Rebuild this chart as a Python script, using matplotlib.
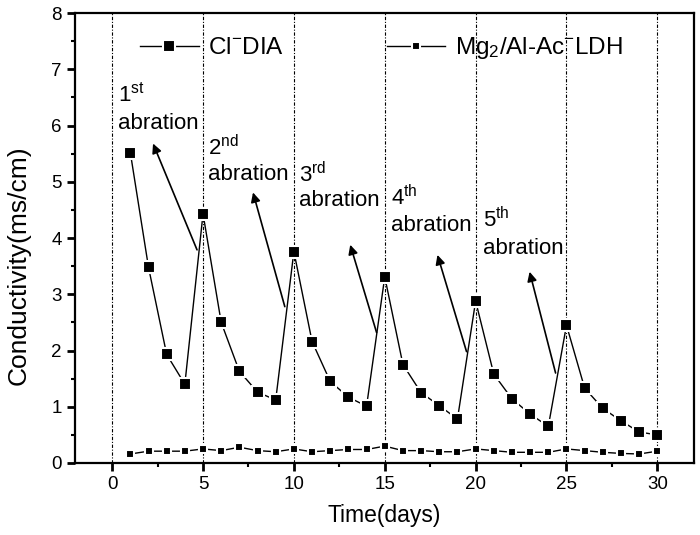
import matplotlib
matplotlib.use("Agg")
import matplotlib.pyplot as plt
from matplotlib.ticker import MultipleLocator

plt.rcParams['font.family'] = ['Liberation Sans', 'DejaVu Sans']
plt.rcParams['mathtext.fontset'] = 'custom'
plt.rcParams['mathtext.rm'] = 'Liberation Sans'
plt.rcParams['mathtext.default'] = 'regular'

# data
days = list(range(1, 31))
cl_dia = [5.52, 3.48, 1.93, 1.40, 4.43, 2.50, 1.63, 1.26, 1.12, 3.76,
          2.16, 1.45, 1.17, 1.01, 3.31, 1.75, 1.25, 1.02, 0.78, 2.88,
          1.58, 1.14, 0.87, 0.65, 2.45, 1.33, 0.97, 0.75, 0.55, 0.50]
ldh = [0.16, 0.21, 0.21, 0.21, 0.25, 0.22, 0.28, 0.22, 0.20, 0.25,
       0.20, 0.22, 0.24, 0.24, 0.30, 0.22, 0.22, 0.20, 0.20, 0.25,
       0.22, 0.19, 0.19, 0.19, 0.25, 0.22, 0.19, 0.17, 0.16, 0.21]
abrasion_days = [0, 5, 10, 15, 20, 25, 30]

# annotations: ordinal text, x, y of number, y of "abration"
ordinals = ['1$^{st}$', '2$^{nd}$', '3$^{rd}$', '4$^{th}$', '5$^{th}$']
label_x = [0.3, 5.25, 10.3, 15.35, 20.4]
num_y = [6.55, 5.6, 5.12, 4.72, 4.33]
word_y = [6.04, 5.13, 4.67, 4.23, 3.82]
arrow_tail = [(4.67, 3.79), (9.5, 2.78), (14.55, 2.32), (19.5, 1.98), (24.4, 1.6)]
arrow_head = [(2.25, 5.68), (7.75, 4.81), (13.1, 3.88), (17.9, 3.7), (22.97, 3.4)]

fig = plt.figure(figsize=(7, 5.35), dpi=100)
ax = fig.add_axes([0.107, 0.1346, 0.884, 0.841])

# dash-dot guide lines at each abration
for d in abrasion_days:
    ax.axvline(d, color='black', lw=0.8, ls=(0, (3, 1.5, 1, 1.5)), zorder=1)

ax.plot(days, cl_dia, color='black', lw=1, marker='s', markersize=8.5,
        markerfacecolor='black', markeredgecolor='white', markeredgewidth=1.5,
        label='Cl$^{-}$DIA', zorder=3)
ax.plot(days, ldh, color='black', lw=1, marker='s', markersize=5.5,
        markerfacecolor='black', markeredgecolor='white', markeredgewidth=1.5,
        label='Mg$_2$/Al-Ac$^{-}$LDH', zorder=3)

for o, x, yn, yw in zip(ordinals, label_x, num_y, word_y):
    ax.text(x, yn, o, fontsize=16, ha='left', va='center')
    ax.text(x, yw, 'abration', fontsize=16, ha='left', va='center')

for tail, head in zip(arrow_tail, arrow_head):
    ax.annotate('', xy=head, xytext=tail,
                arrowprops=dict(arrowstyle='-|>', color='black', lw=1.2,
                                mutation_scale=14, shrinkA=0, shrinkB=0))

ax.set_xlim(-2.05, 32)
ax.set_ylim(0, 8)
ax.xaxis.set_major_locator(MultipleLocator(5))
ax.xaxis.set_minor_locator(MultipleLocator(2.5))
ax.yaxis.set_major_locator(MultipleLocator(1))
ax.yaxis.set_minor_locator(MultipleLocator(0.5))
ax.tick_params(which='major', direction='out', length=6, width=2, labelsize=13.5)
ax.tick_params(which='minor', direction='out', length=3, width=1.5)
for s in ax.spines.values():
    s.set_linewidth(1.6)

ax.set_xlabel('Time(days)', fontsize=16.5, labelpad=8)
ax.set_ylabel('Conductivity(ms/cm)', fontsize=19)
ax.yaxis.set_label_coords(-0.072, 0.44)

ax.legend(loc='center left', bbox_to_anchor=(0.09, 0.922), ncol=2, frameon=False,
          fontsize=17.5, handlelength=2.4, columnspacing=4.2, handletextpad=0.4,
          borderaxespad=0)

fig.savefig('out.png', dpi=100)
